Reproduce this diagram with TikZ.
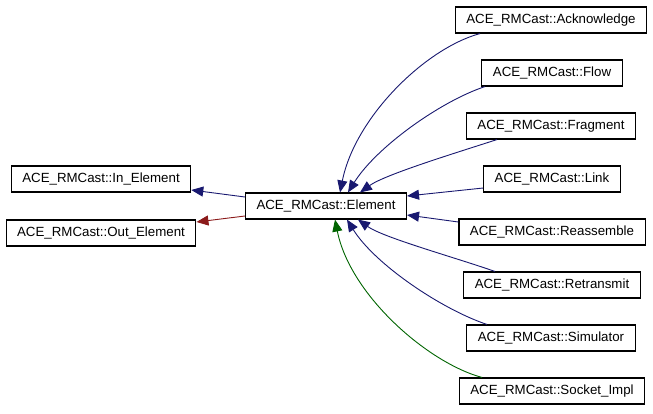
\documentclass[tikz,border=0pt]{standalone}
\usepackage{fontspec}
\setmainfont{Liberation Sans}
\usepackage{tikz}
\usetikzlibrary{arrows.meta}

\definecolor{inhblue}{HTML}{191970}
\definecolor{inhred}{HTML}{8B1A1A}
\definecolor{inhgreen}{HTML}{006400}

\begin{document}
\begin{tikzpicture}[x=1pt, y=-1pt]
		\tikzstyle{cls}=[draw, line width=1.1pt, inner xsep=11pt, inner ysep=0pt, minimum height=26pt, font=\fontsize{13.3}{16}\selectfont];
		\tikzstyle{inh}=[line width=0.9pt, -{Triangle[length=12pt, width=10pt]}];

		\useasboundingbox (0,0) rectangle (653,413);

		% base classes and the element
		\node[cls] (inel) at (101,179) {ACE\_RMCast::In\_Element};
		\node[cls] (outel) at (101,233) {ACE\_RMCast::Out\_Element};
		\node[cls] (el) at (326,206) {ACE\_RMCast::Element};

		% derived classes
		\node[cls] (ack) at (551,20) {ACE\_RMCast::Acknowledge};
		\node[cls] (flow) at (552,73) {ACE\_RMCast::Flow};
		\node[cls] (frag) at (551,126) {ACE\_RMCast::Fragment};
		\node[cls] (link) at (552,179) {ACE\_RMCast::Link};
		\node[cls] (reas) at (552,232) {ACE\_RMCast::Reassemble};
		\node[cls] (retr) at (552,285) {ACE\_RMCast::Retransmit};
		\node[cls] (sim) at (551,338) {ACE\_RMCast::Simulator};
		\node[cls] (sock) at (552,391) {ACE\_RMCast::Socket\_Impl};

		\draw[inh, inhblue] ([yshift=9pt]el.west) -- ([yshift=-11pt]inel.east);
		\draw[inh, inhred] ([yshift=-10pt]el.west) -- ([yshift=11pt]outel.east);

		\draw[inh, inhblue] ([xshift=-71pt]ack.south) .. controls +(-55,15) and +(15,-75) .. ([xshift=14pt]el.north);
		\draw[inh, inhblue] ([xshift=-67pt]flow.south) .. controls +(-45,15) and +(28,-45) .. ([xshift=22pt]el.north);
		\draw[inh, inhblue] ([xshift=-54pt]frag.south) .. controls +(-40,13) and +(25,-18) .. ([xshift=34pt]el.north);
		\draw[inh, inhblue] ([yshift=-9pt]link.west) -- ([yshift=10pt]el.east);
		\draw[inh, inhblue] ([yshift=10pt]reas.west) -- ([yshift=-9pt]el.east);
		\draw[inh, inhblue] ([xshift=-57pt]retr.north) .. controls +(-40,-14) and +(25,18) .. ([xshift=32pt]el.south);
		\draw[inh, inhblue] ([xshift=-64pt]sim.north) .. controls +(-45,-15) and +(28,45) .. ([xshift=21pt]el.south);
		\draw[inh, inhgreen] ([xshift=-70pt]sock.north) .. controls +(-55,-15) and +(15,75) .. ([xshift=9pt]el.south);
	\end{tikzpicture}
\end{document}
